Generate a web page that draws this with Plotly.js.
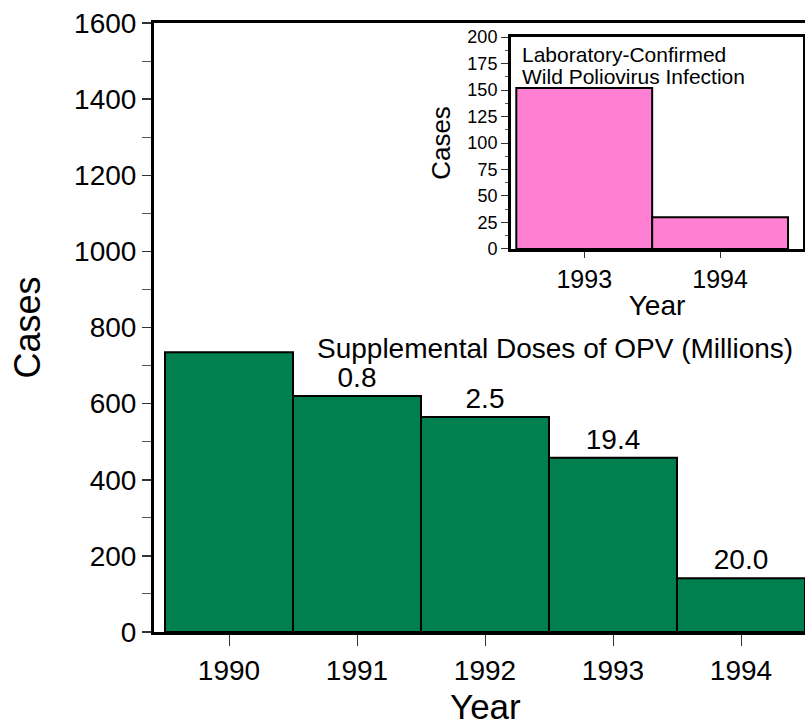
<!DOCTYPE html>
<html>
<head>
<meta charset="utf-8">
<script src="https://cdn.plot.ly/plotly-3.0.1.min.js"></script>
<style>html,body{margin:0;padding:0;background:#fff;}#chart{width:805px;height:726px;}</style>
</head>
<body>
<div id="chart"></div>
<script>
// Main chart data
const years = [1990, 1991, 1992, 1993, 1994];
const cases = [735, 620, 565, 458, 141];
const opvDoses = ['', '0.8', '2.5', '19.4', '20.0'];
// Inset data
const insetYears = [1993, 1994];
const insetCases = [152, 30];
const insetLabelLines = ['Laboratory-Confirmed', 'Wild Poliovirus Infection'];

const FONT = 'Liberation Sans, Arial, sans-serif';

const traces = [
  {
    type: 'bar', x: years, y: cases, width: 1,
    text: opvDoses, textposition: 'outside', cliponaxis: false, constraintext: 'none',
    textfont: {family: FONT, size: 28, color: '#000'},
    marker: {color: '#007f4f', line: {color: '#000', width: 2}},
    hoverinfo: 'x+y', xaxis: 'x', yaxis: 'y', showlegend: false
  },
  {
    type: 'bar', x: insetYears, y: insetCases, width: 1,
    marker: {color: '#ff80d2', line: {color: '#000', width: 2}},
    xaxis: 'x2', yaxis: 'y2', showlegend: false
  }
];

const layout = {
  width: 805, height: 726,
  margin: {l: 154, r: 0, t: 23, b: 94},
  paper_bgcolor: '#fff', plot_bgcolor: '#fff',
  font: {family: FONT, color: '#000'},
  bargap: 0,
  xaxis: {
    domain: [0, 1], range: [1989.414, 1994.5],
    tickvals: years, ticktext: years.map(String),
    ticks: 'outside', ticklen: 11, tickwidth: 1, tickcolor: '#333',
    tickfont: {size: 28, family: FONT, color: '#000'},
    showline: true, linecolor: '#000', linewidth: 3, mirror: true,
    showgrid: false, zeroline: false
  },
  yaxis: {
    range: [0, 1600], dtick: 200, tick0: 0,
    ticks: 'outside', ticklen: 9, tickwidth: 1.5, tickcolor: '#333',
    minor: {dtick: 100, ticks: 'outside', ticklen: 9, tickwidth: 1, tickcolor: '#555', showgrid: false},
    tickfont: {size: 28, family: FONT, color: '#000'},
    showline: true, linecolor: '#000', linewidth: 3, mirror: false,
    showgrid: false, zeroline: false,
    title: {text: 'Cases', font: {size: 36, family: FONT}, standoff: 23}
  },
  xaxis2: {
    domain: [0.5484, 0.9969], anchor: 'y2', range: [1992.461, 1994.61],
    tickvals: insetYears, ticktext: insetYears.map(String),
    ticks: 'outside', ticklen: 6, tickwidth: 1, tickcolor: '#333',
    tickfont: {size: 25, family: FONT, color: '#000'},
    showline: true, linecolor: '#000', linewidth: 3, mirror: true,
    showgrid: false, zeroline: false,
    title: {text: 'Year', font: {size: 28, family: FONT}, standoff: 4}
  },
  yaxis2: {
    domain: [0.6289, 0.977], anchor: 'x2', range: [0, 200], dtick: 25, tick0: 0,
    ticks: 'outside', ticklen: 7, tickwidth: 1, tickcolor: '#333',
    minor: {dtick: 12.5, ticks: 'outside', ticklen: 3, tickwidth: 1, tickcolor: '#555', showgrid: false},
    tickfont: {size: 18, family: FONT, color: '#000'},
    showline: true, linecolor: '#000', linewidth: 3, mirror: true,
    showgrid: false, zeroline: false,
    title: {text: 'Cases', font: {size: 26, family: FONT}, standoff: 10}
  },
  annotations: [
    {
      text: 'Year', xref: 'paper', yref: 'paper',
      x: 0.509, y: (632 - 706) / 609, xanchor: 'center', yanchor: 'middle', showarrow: false,
      font: {size: 35, family: FONT, color: '#000'}
    },
    {
      text: 'Supplemental Doses of OPV (Millions)', xref: 'x', yref: 'y',
      x: 1992.55, y: 744, xanchor: 'center', yanchor: 'middle', showarrow: false,
      font: {size: 28, family: FONT, color: '#000'}
    },
    {
      text: insetLabelLines[0], xref: 'paper', yref: 'paper',
      x: 0.5615, y: (632 - 54) / 609, xanchor: 'left', yanchor: 'middle', align: 'left', showarrow: false,
      font: {size: 21, family: FONT, color: '#000'}
    },
    {
      text: insetLabelLines[1], xref: 'paper', yref: 'paper',
      x: 0.5615, y: (632 - 76) / 609, xanchor: 'left', yanchor: 'middle', align: 'left', showarrow: false,
      font: {size: 21, family: FONT, color: '#000'}
    }
  ]
};

Plotly.newPlot('chart', traces, layout, {displayModeBar: false, staticPlot: true});
</script>
</body>
</html>
